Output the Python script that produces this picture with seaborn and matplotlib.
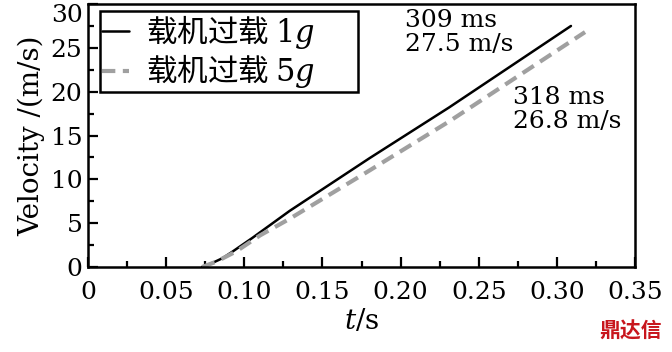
import pandas as pd
import seaborn as sns
import matplotlib
matplotlib.use('Agg')
import matplotlib.pyplot as plt
from matplotlib.ticker import MultipleLocator

t_1g = [0.073, 0.080, 0.086, 0.092, 0.105, 0.129, 0.180, 0.231, 0.309]
v_1g = [0.0, 0.5, 1.0, 1.7, 3.3, 6.4, 12.4, 18.2, 27.5]
t_5g = [0.073, 0.082, 0.095, 0.110, 0.129, 0.180, 0.231, 0.318]
v_5g = [0.0, 0.6, 1.8, 3.6, 5.5, 11.0, 16.6, 26.8]
labels = ['载机过载 $\\mathrm{1}g$', '载机过载 $\\mathrm{5}g$']
xtick_vals = [0, 0.05, 0.10, 0.15, 0.20, 0.25, 0.30, 0.35]
xtick_text = ['0', '0.05', '0.10', '0.15', '0.20', '0.25', '0.30', '0.35']
ytick_vals = [0, 5, 10, 15, 20, 25, 30]
notes = [(0.203, 26.8, '309 ms\n27.5 m/s'), (0.272, 18.0, '318 ms\n26.8 m/s')]

sns.set_theme(style='ticks')
plt.rcParams['font.family'] = ['DejaVu Serif', 'Noto Sans CJK SC']
plt.rcParams['mathtext.fontset'] = 'custom'
plt.rcParams['mathtext.rm'] = 'DejaVu Serif'
plt.rcParams['mathtext.it'] = 'DejaVu Serif:italic'
plt.rcParams['text.color'] = 'black'
plt.rcParams['axes.labelcolor'] = 'black'

df1 = pd.DataFrame({'t': t_1g, 'v': v_1g})
df5 = pd.DataFrame({'t': t_5g, 'v': v_5g})

fig = plt.figure(figsize=(6.72, 3.52), dpi=100)
ax = fig.add_axes([0.131, 0.2415, 0.814, 0.747])

sns.lineplot(data=df1, x='t', y='v', ax=ax, color='black', lw=1.8, label=labels[0])
sns.lineplot(data=df5, x='t', y='v', ax=ax, color='#a0a0a0', lw=3.0, label=labels[1])
ax.lines[1].set_dashes([3.2, 1.8])

ax.set_xlim(0, 0.35)
ax.set_ylim(0, 30)
ax.set_xticks(xtick_vals)
ax.set_xticklabels(xtick_text)
ax.set_yticks(ytick_vals)
ax.xaxis.set_minor_locator(MultipleLocator(0.025))
ax.yaxis.set_minor_locator(MultipleLocator(2.5))

ax.tick_params(which='both', direction='in', width=1.6, labelsize=18,
               top=False, right=False, colors='black')
ax.tick_params(axis='x', which='major', pad=10)
ax.tick_params(axis='y', which='major', pad=4)
ax.tick_params(which='major', length=7)
ax.tick_params(which='minor', length=4)
for sp in ax.spines.values():
    sp.set_linewidth(1.8)
    sp.set_color('black')

# top label sits below its tick so it stays inside the figure
ax.get_yticklabels()[-1].set_va('top')

ax.set_xlabel('$t$/s', fontsize=20, labelpad=3)
ax.set_ylabel('Velocity /(m/s)', fontsize=20, labelpad=4)

for x, y, s in notes:
    ax.text(x, y, s, fontsize=18, va='center', ha='left', linespacing=1.05)

# expand mode widens the frame past the text, like the original box
leg = ax.legend(loc='upper left', prop={'family': 'Noto Sans CJK SC', 'size': 22},
                frameon=True, fancybox=False, borderpad=0.05, handlelength=0.9,
                handletextpad=0.55, labelspacing=0.05, mode='expand',
                bbox_to_anchor=(0.022, 0.5, 0.472, 0.473), borderaxespad=0)
leg.get_frame().set_edgecolor('black')
leg.get_frame().set_linewidth(1.8)
leg.get_frame().set_alpha(1)

fig.text(0.985, 0.03, '鼎达信', color='#c8161d', fontsize=15, fontweight='bold',
         ha='right', va='bottom', family=['Noto Sans CJK SC'])

fig.savefig('out.png', dpi=100)
